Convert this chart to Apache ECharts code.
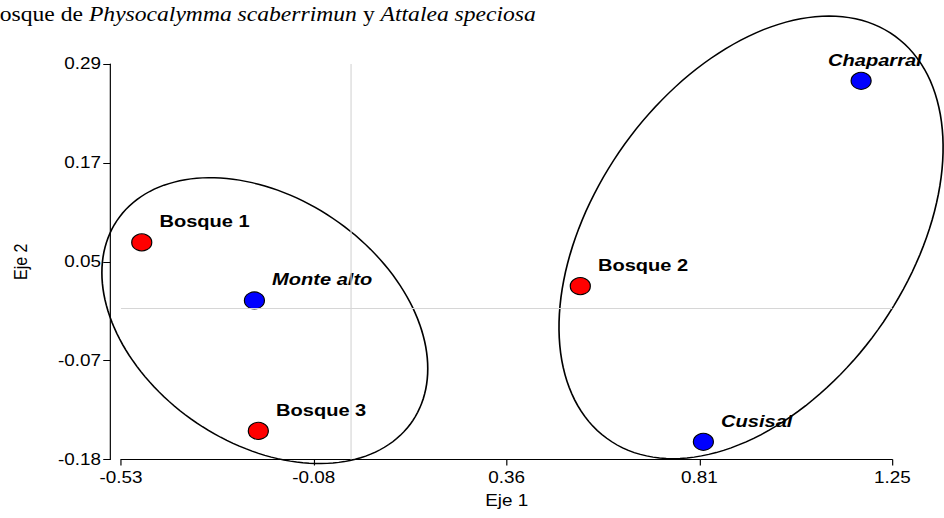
<!DOCTYPE html>
<html>
<head>
<meta charset="utf-8">
<script src="https://cdn.jsdelivr.net/npm/echarts@6/dist/echarts.min.js"></script>
<style>
  html, body { margin: 0; padding: 0; background: #ffffff; overflow: hidden; }
  /* the figure is laid out at 800px and widened to the 944px frame */
  #chart { width: 800px; height: 518px; transform: scaleX(1.18); transform-origin: 0 0; }
</style>
</head>
<body>
<div id="chart"></div>
<script>
// Ordination scores (Eje 1, Eje 2) of the forest plots
const bosqueNames = ['Bosque 1', 'Bosque 2', 'Bosque 3'];
const bosqueEje1 = [-0.482, 0.530, -0.213];
const bosqueEje2 = [0.078, 0.026, -0.146];

// Ordination scores of the localities
const sitioNames = ['Monte alto', 'Chaparral', 'Cusisal'];
const sitioEje1 = [-0.222, 1.178, 0.814];
const sitioEje2 = [0.009, 0.270, -0.159];

// Grouping ellipses: centre and two conjugate semi-axes, in axis units
const ellipseCentre = [[-0.198, -0.015], [0.924, 0.084]];
const ellipseAxisA = [[0.376, -0.057], [0.405, 0.000]];
const ellipseAxisB = [[0.000, 0.160], [-0.180, -0.263]];

// Axis ranges, tick positions and their printed labels
const xRange = [-0.53, 1.25];
const yRange = [-0.18, 0.29];
const xTickValues = [-0.53, -0.085, 0.36, 0.805, 1.25];
const xTickLabels = ['-0.53', '-0.08', '0.36', '0.81', '1.25'];
const yTickValues = [-0.18, -0.0625, 0.055, 0.1725, 0.29];
const yTickLabels = ['-0.18', '-0.07', '0.05', '0.17', '0.29'];

const titleParts = ['Bosque de ', 'Physocalymma scaberrimun', ' y ', 'Attalea speciosa'];

// ---- styling ----
const SANS = 'Liberation Sans, Arial, sans-serif';
const SERIF = 'Liberation Serif, Times New Roman, serif';
const labelNudge = { 'Chaparral': [-43, -21] };
const defaultNudge = [0, -21];

function tickLabel(values, labels) {
  return function (v) {
    let best = 0;
    for (let i = 1; i < values.length; i++) {
      if (Math.abs(values[i] - v) < Math.abs(values[best] - v)) best = i;
    }
    return labels[best];
  };
}

function pointData(names, xs, ys) {
  return names.map((n, i) => ({
    name: n,
    value: [xs[i], ys[i]],
    label: { offset: labelNudge[n] || defaultNudge }
  }));
}

const ellipseData = ellipseCentre.map((c, i) => [
  c[0], c[1], ellipseAxisA[i][0], ellipseAxisA[i][1], ellipseAxisB[i][0], ellipseAxisB[i][1]
]);

function renderEllipse(params, api) {
  const cx = api.value(0), cy = api.value(1);
  const ax = api.value(2), ay = api.value(3);
  const bx = api.value(4), by = api.value(5);
  const pts = [];
  const n = 160;
  for (let k = 0; k < n; k++) {
    const t = (k / n) * Math.PI * 2;
    const c = Math.cos(t), s = Math.sin(t);
    pts.push(api.coord([cx + ax * c + bx * s, cy + ay * c + by * s]));
  }
  return {
    type: 'polygon',
    shape: { points: pts },
    style: { fill: 'none', stroke: '#000000', lineWidth: 1.4 }
  };
}

const pointLabel = (italic) => ({
  show: true,
  position: 'right',
  distance: 6,
  formatter: '{b}',
  color: '#000000',
  fontFamily: SANS,
  fontSize: 17,
  fontWeight: 'bold',
  fontStyle: italic ? 'italic' : 'normal'
});

const chart = echarts.init(document.getElementById('chart'), null, { renderer: 'svg' });

chart.setOption({
  backgroundColor: '#ffffff',
  animation: false,
  title: {
    left: -13.5,
    top: 5,
    padding: 0,
    text: '{n|' + titleParts[0] + '}{i|' + titleParts[1] + '}{n|' + titleParts[2] + '}{i|' + titleParts[3] + '}',
    textStyle: {
      fontWeight: 'normal',
      rich: {
        n: { fontFamily: SERIF, fontSize: 20, fontWeight: 'normal', color: '#000000' },
        i: { fontFamily: SERIF, fontSize: 20, fontWeight: 'normal', color: '#000000', fontStyle: 'italic' }
      }
    }
  },
  grid: { left: 102.5, right: 43.8, top: 64, bottom: 58.5 },
  xAxis: {
    type: 'value',
    min: xRange[0],
    max: xRange[1],
    name: 'Eje 1',
    nameLocation: 'middle',
    nameGap: 33,
    nameTextStyle: { fontFamily: SANS, fontSize: 16, color: '#000000' },
    axisLine: { show: true, onZero: false, lineStyle: { color: '#000000', width: 1 } },
    axisTick: { show: true, length: 6, customValues: xTickValues, lineStyle: { color: '#000000' } },
    axisLabel: {
      customValues: xTickValues,
      formatter: tickLabel(xTickValues, xTickLabels),
      margin: 10,
      fontFamily: SANS, fontSize: 16, color: '#000000'
    },
    splitLine: { show: false }
  },
  yAxis: {
    type: 'value',
    min: yRange[0],
    max: yRange[1],
    offset: 9,
    name: 'Eje 2',
    nameLocation: 'middle',
    nameGap: 68,
    nameTextStyle: { fontFamily: SANS, fontSize: 16, color: '#000000' },
    axisLine: { show: true, onZero: false, lineStyle: { color: '#000000', width: 1 } },
    axisTick: { show: true, length: 6, customValues: yTickValues, lineStyle: { color: '#000000' } },
    axisLabel: {
      customValues: yTickValues,
      formatter: tickLabel(yTickValues, yTickLabels),
      margin: 8,
      fontFamily: SANS, fontSize: 16, color: '#000000'
    },
    splitLine: { show: false }
  },
  series: [
    {
      // zero reference lines
      type: 'scatter',
      data: [],
      z: 1,
      markLine: {
        silent: true,
        symbol: 'none',
        label: { show: false },
        lineStyle: { color: '#d6d6d6', type: 'solid', width: 1 },
        data: [{ xAxis: 0 }, { yAxis: 0 }]
      }
    },
    {
      type: 'custom',
      z: 2,
      clip: false,
      renderItem: renderEllipse,
      encode: { x: 0, y: 1 },
      data: ellipseData
    },
    {
      name: 'Bosques',
      type: 'scatter',
      z: 3,
      clip: false,
      symbol: 'circle',
      symbolSize: 17,
      itemStyle: { color: '#ff0000', borderColor: '#000000', borderWidth: 1, opacity: 1 },
      label: pointLabel(false),
      data: pointData(bosqueNames, bosqueEje1, bosqueEje2)
    },
    {
      name: 'Sitios',
      type: 'scatter',
      z: 3,
      clip: false,
      symbol: 'circle',
      symbolSize: 17,
      itemStyle: { color: '#0000ff', borderColor: '#000000', borderWidth: 1, opacity: 1 },
      label: pointLabel(true),
      data: pointData(sitioNames, sitioEje1, sitioEje2)
    }
  ]
});
</script>
</body>
</html>
